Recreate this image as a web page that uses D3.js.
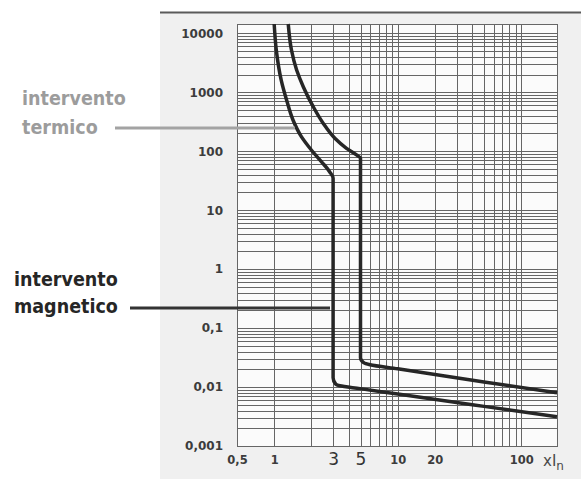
<!DOCTYPE html>
<html>
<head>
<meta charset="utf-8">
<script src="https://cdn.jsdelivr.net/npm/d3@7"></script>
<style>
  body { margin: 0; background: #fff; }
  svg { display: block; }
</style>
</head>
<body>
<div class="chart-container"></div>
<script>
// curva inferiore (soglia magnetica a 3 In)
const lowX = [1.0, 1.04, 1.14, 1.26, 1.42, 1.66, 2.0, 2.41, 2.81, 3, 3, 3.15, 3.4, 4.96, 10, 50, 195];
const lowY = [14400, 5210, 1610, 740, 339, 177, 105, 66.7, 45, 34.8, 0.0144, 0.0112, 0.0105, 0.0094, 0.0076, 0.0047, 0.00314];

// curva superiore (soglia magnetica a 5 In)
const upX = [1.3, 1.38, 1.52, 1.72, 2.07, 2.49, 3.1, 3.85, 4.64, 5, 5, 5.3, 5.98, 10, 50, 195];
const upY = [14400, 5210, 2390, 1245, 570, 299, 166, 112, 86.5, 76.4, 0.0314, 0.026, 0.0239, 0.0204, 0.0122, 0.008];

// etichette assi
const yTicks = [10000, 1000, 100, 10, 1, 0.1, 0.01, 0.001];
const xTicksSmall = [0.5, 1, 10, 20, 100];
const xTicksBig = [3, 5];
const xGrid = [1, 2, 3, 4, 5, 6, 7, 8, 9, 10, 20, 30, 40, 50, 60, 70, 80, 90, 100];

const width = 581;
const height = 479;

const itFormat = d3.formatLocale({ decimal: ",", thousands: "", grouping: [3], currency: ["", "€"] });
const fmt = v => itFormat.format("")(v);

const svg = d3.select(".chart-container").append("svg")
  .attr("width", width)
  .attr("height", height);

// pannello grigio
svg.append("rect")
  .attr("x", 160).attr("y", 12)
  .attr("width", width - 160).attr("height", height - 12)
  .attr("fill", "#f0f0f0");

svg.append("line")
  .attr("x1", 160).attr("x2", width)
  .attr("y1", 12.5).attr("y2", 12.5)
  .attr("stroke", "#5a5a5a")
  .attr("stroke-width", 2);

const x = d3.scaleLog().domain([0.5, 195]).range([237, 557]);
const y = d3.scaleLog().domain([0.001, 14400]).range([446, 24]);

svg.append("rect")
  .attr("x", x.range()[0]).attr("y", y.range()[1])
  .attr("width", x.range()[1] - x.range()[0])
  .attr("height", y.range()[0] - y.range()[1])
  .attr("fill", "#fbfbfb");

// griglia
const yGrid = [];
[0.001, 0.01, 0.1, 1, 10, 100, 1000, 10000].forEach(d => {
  for (let k = 1; k <= 9; k++) {
    const v = k * d;
    if (v <= y.domain()[1]) yGrid.push(v);
  }
});

const grid = svg.append("g").attr("class", "grid");

grid.selectAll(".hline")
  .data(yGrid)
  .enter()
  .append("line")
  .attr("class", "hline")
  .attr("x1", x.range()[0]).attr("x2", x.range()[1])
  .attr("y1", d => Math.round(y(d)) + 0.5)
  .attr("y2", d => Math.round(y(d)) + 0.5)
  .attr("stroke", "#666")
  .attr("stroke-width", 1);

grid.selectAll(".vline")
  .data(xGrid)
  .enter()
  .append("line")
  .attr("class", "vline")
  .attr("y1", y.range()[1]).attr("y2", y.range()[0])
  .attr("x1", d => Math.round(x(d)) + 0.5)
  .attr("x2", d => Math.round(x(d)) + 0.5)
  .attr("stroke", "#666")
  .attr("stroke-width", 1);

svg.append("rect")
  .attr("x", x.range()[0] + 0.5).attr("y", y.range()[1] + 0.5)
  .attr("width", x.range()[1] - x.range()[0])
  .attr("height", y.range()[0] - y.range()[1])
  .attr("fill", "none")
  .attr("stroke", "#666");

// assi
const yAxis = svg.append("g")
  .attr("transform", `translate(${x.range()[0]},0)`)
  .call(d3.axisLeft(y).tickValues(yTicks).tickFormat(fmt).tickSize(0).tickPadding(14));
yAxis.select(".domain").remove();
yAxis.selectAll("text")
  .attr("font-family", "DejaVu Sans")
  .attr("font-weight", "bold")
  .attr("font-size", 12)
  .attr("fill", "#3c3c3c");

const xAxis = svg.append("g")
  .attr("transform", `translate(0,${y.range()[0]})`)
  .call(d3.axisBottom(x).tickValues(xTicksSmall).tickFormat(fmt).tickSize(0).tickPadding(10));
xAxis.select(".domain").remove();
xAxis.selectAll("text")
  .attr("font-family", "DejaVu Sans")
  .attr("font-weight", "bold")
  .attr("font-size", 11.5)
  .attr("fill", "#3c3c3c");

const xAxisBig = svg.append("g")
  .attr("transform", `translate(0,${y.range()[0]})`)
  .call(d3.axisBottom(x).tickValues(xTicksBig).tickFormat(fmt).tickSize(0).tickPadding(7));
xAxisBig.select(".domain").remove();
xAxisBig.selectAll("text")
  .attr("font-family", "DejaVu Sans")
  .attr("font-size", 17)
  .attr("fill", "#333");

const unit = svg.append("text")
  .attr("x", 543).attr("y", 466)
  .attr("font-family", "DejaVu Sans")
  .attr("font-size", 15)
  .attr("fill", "#4a4a4a");
unit.append("tspan").text("xI");
unit.append("tspan").attr("dy", 4).attr("font-size", 12).text("n");

// curve
const line = d3.line()
  .x(d => x(d[0]))
  .y(d => y(d[1]))
  .curve(d3.curveMonotoneY);

const curves = [d3.zip(lowX, lowY), d3.zip(upX, upY)];

svg.selectAll(".curve")
  .data(curves)
  .enter()
  .append("path")
  .attr("class", "curve")
  .attr("d", line)
  .attr("fill", "none")
  .attr("stroke", "#262626")
  .attr("stroke-width", 3.5)
  .attr("stroke-linejoin", "round");

// annotazioni
svg.append("line")
  .attr("x1", 115).attr("x2", 295)
  .attr("y1", 128).attr("y2", 128)
  .attr("stroke", "#a3a3a3")
  .attr("stroke-width", 3);

svg.append("line")
  .attr("x1", 130).attr("x2", 330)
  .attr("y1", 308).attr("y2", 308)
  .attr("stroke", "#333")
  .attr("stroke-width", 3);

const termico = svg.append("text")
  .attr("font-family", "DejaVu Sans Condensed")
  .attr("font-weight", "bold")
  .attr("font-size", 19.5)
  .attr("fill", "#9c9c9c");
termico.append("tspan").attr("x", 22).attr("y", 105).text("intervento");
termico.append("tspan").attr("x", 22).attr("y", 134).text("termico");

const magnetico = svg.append("text")
  .attr("font-family", "DejaVu Sans Condensed")
  .attr("font-weight", "bold")
  .attr("font-size", 19.5)
  .attr("fill", "#262626");
magnetico.append("tspan").attr("x", 14).attr("y", 286).text("intervento");
magnetico.append("tspan").attr("x", 14).attr("y", 313).text("magnetico");
</script>
</body>
</html>
